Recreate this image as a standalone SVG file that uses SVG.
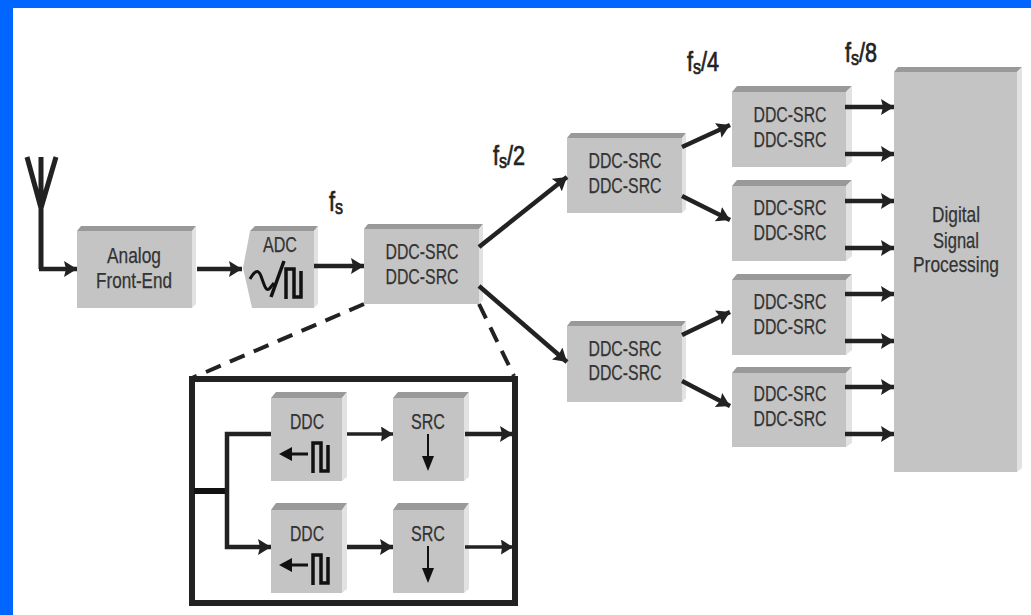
<svg xmlns="http://www.w3.org/2000/svg" width="1031" height="615" viewBox="0 0 1031 615">
<style>
.f{fill:#c4c4c4}.t{fill:#999}.r{fill:#e2e2e2}
text{font-family:"Liberation Sans",Arial,sans-serif;font-size:22px;fill:#333;text-anchor:middle;stroke:#333;stroke-width:.25}
.l{font-size:27px;fill:#222;stroke:#222;stroke-width:.7;text-anchor:start}
.l tspan{font-size:20px}
.c{fill:none;stroke:#222;stroke-width:4.500;marker-end:url(#a)}
.c2{fill:none;stroke:#222;stroke-width:3.500;marker-end:url(#a2)}
</style>
<defs>
<marker id="a" markerUnits="userSpaceOnUse" markerWidth="14" markerHeight="16" refX="13" refY="8" orient="auto"><path d="M0 0L13 8L0 16L2 8Z" fill="#222"/></marker>
<marker id="a2" markerUnits="userSpaceOnUse" markerWidth="13" markerHeight="15" refX="12" refY="7.5" orient="auto"><path d="M0 0L12 7.500L0 15L1 7.500Z" fill="#222"/></marker>
<path id="sq" d="M2 32V2H10V30H17V4" fill="none" stroke="#111" stroke-width="3.500"/>
</defs>
<rect width="1031" height="615" fill="#fff"/>
<rect width="1031" height="8" fill="#0066ff"/>
<rect width="13" height="615" fill="#0066ff"/>

<g id="antenna"><path d="M41 269V208M41 208L27 157M41 208V157M41 208L56 157" fill="none" stroke="#222" stroke-width="5"/></g>

<g id="analog-front-end">
<path class="t" d="M77 231L81 226H196L192 231Z"/><path class="r" d="M192 231L196 226V304L192 308Z"/><rect class="f" x="77" y="231" width="115" height="77"/>
<text x="134" y="263" textLength="54" lengthAdjust="spacingAndGlyphs">Analog</text>
<text x="134" y="288" textLength="76" lengthAdjust="spacingAndGlyphs">Front-End</text>
</g>

<g id="adc">
<path class="t" d="M250 231L255 226H318L314 231Z"/><path class="r" d="M314 231L318 226V304L314 308Z"/>
<path class="f" d="M250 231H314V308H252L243 268Z"/>
<text x="280" y="252" textLength="34" lengthAdjust="spacingAndGlyphs">ADC</text>
<path d="M250 279C254 272 258 268 261 276S266 293 270 288L274 283" fill="none" stroke="#111" stroke-width="3"/>
<path d="M271 297L284 261" fill="none" stroke="#111" stroke-width="3.500"/>
<use href="#sq" x="284" y="267"/>
</g>

<g id="ddc-src-main">
<path class="t" d="M364 229L368 224H483L479 229Z"/><path class="r" d="M479 229L483 224V300L479 304Z"/><rect class="f" x="364" y="229" width="115" height="75"/>
<text x="422" y="259" textLength="73" lengthAdjust="spacingAndGlyphs">DDC-SRC</text>
<text x="422" y="284" textLength="73" lengthAdjust="spacingAndGlyphs">DDC-SRC</text>
</g>

<g id="ddc-src-2a">
<path class="t" d="M567 138L571 133H686L682 138Z"/><path class="r" d="M682 138L686 133V209L682 213Z"/><rect class="f" x="567" y="138" width="115" height="75"/>
<text x="625" y="168" textLength="73" lengthAdjust="spacingAndGlyphs">DDC-SRC</text>
<text x="625" y="193" textLength="73" lengthAdjust="spacingAndGlyphs">DDC-SRC</text>
</g>

<g id="ddc-src-2b">
<path class="t" d="M567 326L571 321H686L682 326Z"/><path class="r" d="M682 326L686 321V398L682 402Z"/><rect class="f" x="567" y="326" width="115" height="76"/>
<text x="625" y="356" textLength="73" lengthAdjust="spacingAndGlyphs">DDC-SRC</text>
<text x="625" y="380" textLength="73" lengthAdjust="spacingAndGlyphs">DDC-SRC</text>
</g>

<g id="ddc-src-4a">
<path class="t" d="M732 92L737 86H852L846 92Z"/><path class="r" d="M846 92L852 86V162L846 167Z"/><rect class="f" x="732" y="92" width="114" height="75"/>
<text x="790" y="122" textLength="73" lengthAdjust="spacingAndGlyphs">DDC-SRC</text>
<text x="790" y="147" textLength="73" lengthAdjust="spacingAndGlyphs">DDC-SRC</text>
</g>

<g id="ddc-src-4b">
<path class="t" d="M732 186L737 180H852L846 186Z"/><path class="r" d="M846 186L852 180V256L846 261Z"/><rect class="f" x="732" y="186" width="114" height="75"/>
<text x="790" y="215" textLength="73" lengthAdjust="spacingAndGlyphs">DDC-SRC</text>
<text x="790" y="240" textLength="73" lengthAdjust="spacingAndGlyphs">DDC-SRC</text>
</g>

<g id="ddc-src-4c">
<path class="t" d="M732 280L737 274H852L846 280Z"/><path class="r" d="M846 280L852 274V350L846 355Z"/><rect class="f" x="732" y="280" width="114" height="75"/>
<text x="790" y="309" textLength="73" lengthAdjust="spacingAndGlyphs">DDC-SRC</text>
<text x="790" y="334" textLength="73" lengthAdjust="spacingAndGlyphs">DDC-SRC</text>
</g>

<g id="ddc-src-4d">
<path class="t" d="M732 373L737 367H852L846 373Z"/><path class="r" d="M846 373L852 367V443L846 447Z"/><rect class="f" x="732" y="373" width="114" height="74"/>
<text x="790" y="401" textLength="73" lengthAdjust="spacingAndGlyphs">DDC-SRC</text>
<text x="790" y="426" textLength="73" lengthAdjust="spacingAndGlyphs">DDC-SRC</text>
</g>

<g id="digital-signal-processing">
<path class="t" d="M894 72L898 67H1022L1017 72Z"/><path class="r" d="M1017 72L1022 67V468L1017 472Z"/><rect class="f" x="894" y="72" width="123" height="400"/>
<text x="956" y="222" textLength="48" lengthAdjust="spacingAndGlyphs">Digital</text>
<text x="956" y="248" textLength="46" lengthAdjust="spacingAndGlyphs">Signal</text>
<text x="956" y="272" textLength="86" lengthAdjust="spacingAndGlyphs">Processing</text>
</g>

<g id="inset-frame"><rect x="192" y="379" width="323" height="224" fill="none" stroke="#222" stroke-width="6"/></g>

<g id="ddc-top">
<path class="t" d="M271 398L276 392H347L342 398Z"/><path class="r" d="M342 398L347 392V477L342 481Z"/><rect class="f" x="271" y="398" width="71" height="83"/>
<text x="307" y="429" textLength="34" lengthAdjust="spacingAndGlyphs">DDC</text>
<path d="M308 454H286" fill="none" stroke="#111" stroke-width="3"/><path d="M279 454L292 447V461Z" fill="#111"/>
<use href="#sq" x="311" y="441"/>
</g>

<g id="src-top">
<path class="t" d="M393 398L398 392H469L464 398Z"/><path class="r" d="M464 398L469 392V477L464 481Z"/><rect class="f" x="393" y="398" width="71" height="83"/>
<text x="428" y="429" textLength="34" lengthAdjust="spacingAndGlyphs">SRC</text>
<path d="M428 434V458" fill="none" stroke="#111" stroke-width="2"/><path d="M428 471L422 456H434Z" fill="#111"/>
</g>

<g id="ddc-bottom">
<path class="t" d="M271 510L276 503H347L342 510Z"/><path class="r" d="M342 510L347 503V589L342 593Z"/><rect class="f" x="271" y="510" width="71" height="83"/>
<text x="307" y="541" textLength="34" lengthAdjust="spacingAndGlyphs">DDC</text>
<path d="M308 565H286" fill="none" stroke="#111" stroke-width="3"/><path d="M279 565L292 558V572Z" fill="#111"/>
<use href="#sq" x="311" y="553"/>
</g>

<g id="src-bottom">
<path class="t" d="M393 510L398 503H469L464 510Z"/><path class="r" d="M464 510L469 503V589L464 593Z"/><rect class="f" x="393" y="510" width="71" height="83"/>
<text x="428" y="541" textLength="34" lengthAdjust="spacingAndGlyphs">SRC</text>
<path d="M428 546V570" fill="none" stroke="#111" stroke-width="2"/><path d="M428 583L422 568H434Z" fill="#111"/>
</g>

<g id="connectors">
<path class="c" d="M39 269H77"/>
<path class="c" d="M197 269H242"/>
<path class="c" d="M314 266H364"/>
<path class="c" d="M479 247L567 177"/>
<path class="c" d="M479 286L567 362"/>
<path class="c" d="M682 147L730 125"/>
<path class="c" d="M682 196L730 220"/>
<path class="c" d="M682 335L730 312"/>
<path class="c" d="M682 381L730 406"/>
<path class="c" d="M845 107H894"/><path class="c" d="M845 154H894"/>
<path class="c" d="M845 201H894"/><path class="c" d="M845 248H894"/>
<path class="c" d="M845 294H894"/><path class="c" d="M845 341H894"/>
<path class="c" d="M845 387H894"/><path class="c" d="M845 434H894"/>
<path d="M364 304L192 378M479 304L514 376" fill="none" stroke="#222" stroke-width="4" stroke-dasharray="16 10"/>
<path d="M194 491H227" fill="none" stroke="#111" stroke-width="6"/>
<path class="c" d="M271 434H227V547H271"/>
<path class="c2" d="M347 434H393"/>
<path class="c" d="M347 547H393"/>
<path class="c" d="M465 434H513"/>
<path class="c2" d="M465 547H513"/>
</g>

<g id="rate-labels">
<text class="l" transform="translate(329 211) scale(.8 1)">f<tspan dy="3">s</tspan></text>
<text class="l" transform="translate(493 165) scale(.8 1)">f<tspan dy="3">s</tspan><tspan dy="-3" style="font-size:27px">/2</tspan></text>
<text class="l" transform="translate(687 71) scale(.8 1)">f<tspan dy="3">s</tspan><tspan dy="-3" style="font-size:27px">/4</tspan></text>
<text class="l" transform="translate(845 62) scale(.8 1)">f<tspan dy="3">s</tspan><tspan dy="-3" style="font-size:27px">/8</tspan></text>
</g>
</svg>
